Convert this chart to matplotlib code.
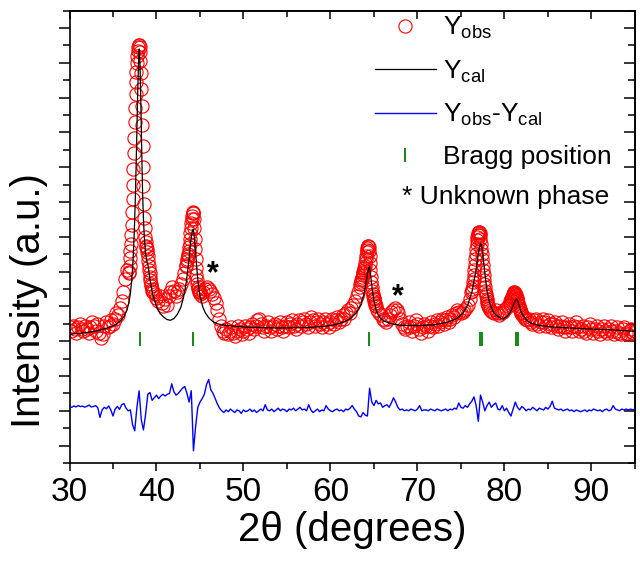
import numpy as np
import matplotlib
matplotlib.use("Agg")
import matplotlib.pyplot as plt
from matplotlib.ticker import MultipleLocator

plt.rcParams['font.family'] = ['Liberation Sans', 'DejaVu Sans']
plt.rcParams['mathtext.fontset'] = 'custom'
plt.rcParams['mathtext.rm'] = 'Liberation Sans'
plt.rcParams['mathtext.it'] = 'Liberation Sans:italic'

# observed pattern, pieces (start, end, values) - coarse on background, fine on peaks
obs_segments = [
    (30.0, 36.8, [6.8, 6.6, 6.9, 6.7, 6.5, 6.8, 7.0, 6.7, 6.6, 6.9,
                  6.7, 6.5, 6.8, 7.1, 6.9, 6.6, 7.0, 6.5, 6.2, 6.4,
                  6.9, 7.1, 6.8, 6.9, 7.2, 7.0, 7.3, 7.6, 7.5, 7.9,
                  8.3, 8.8, 9.6, 10.1, 9.9]),
    (36.85, 39.5, [10.0, 10.3, 10.8, 11.2, 11.6, 12.1, 12.7, 13.4, 14.2, 15.0,
                   15.9, 16.8, 17.7, 18.6, 19.4, 20.2, 20.9, 21.5, 22.0, 22.4,
                   22.7, 22.9, 23.0, 23.0, 22.9, 22.6, 22.1, 21.4, 20.5, 19.5,
                   18.4, 17.2, 16.0, 14.9, 13.9, 13.1, 12.5, 12.0, 11.7, 11.5,
                   11.4, 11.3, 11.1, 10.9, 10.6, 10.3, 10.1, 9.9, 9.7, 9.5,
                   9.3, 9.2, 9.0, 8.9]),
    (39.6, 43.4, [8.8, 8.7, 8.5, 8.3, 8.6, 8.2, 8.0, 8.4, 8.1, 8.6,
                  8.8, 9.1, 8.9, 8.6, 8.8, 9.0, 9.3, 9.6, 9.9, 10.3]),
    (43.45, 45.0, [10.4, 10.6, 10.7, 10.9, 11.0, 11.2, 11.4, 11.6, 11.9, 12.2,
                   12.5, 12.8, 13.0, 13.2, 13.35, 13.4, 13.35, 13.0, 12.5, 11.9,
                   11.3, 10.7, 10.2, 9.8, 9.5, 9.3, 9.1, 9.0, 8.9, 8.8,
                   8.8, 8.7]),
    (45.2, 63.4, [8.6, 8.8, 9.0, 9.1, 9.0, 8.9, 8.7, 8.5, 8.2, 7.8,
                  7.3, 6.9, 6.6, 6.5, 6.7, 6.4, 6.6, 6.8, 6.5, 6.3,
                  6.6, 6.9, 6.7, 6.4, 6.6, 6.9, 6.7, 6.5, 6.8, 7.0,
                  6.7, 6.9, 7.2, 7.3, 7.0, 6.8, 6.6, 6.9, 7.1, 6.8,
                  6.6, 6.9, 7.0, 6.7, 6.9, 7.1, 6.8, 6.6, 6.9, 7.1,
                  6.8, 7.0, 7.2, 6.9, 6.7, 7.0, 7.2, 6.9, 7.1, 7.3,
                  7.0, 6.8, 7.1, 7.4, 7.2, 6.9, 7.1, 7.3, 7.0, 6.8,
                  7.1, 7.3, 7.0, 6.8, 7.1, 7.3, 7.0, 7.2, 7.4, 7.1,
                  7.3, 7.5, 7.3, 7.6, 7.8, 7.6, 7.9, 8.1, 8.3, 8.6,
                  8.8, 9.1]),
    (63.45, 65.2, [9.3, 9.4, 9.5, 9.6, 9.7, 9.8, 9.9, 10.0, 10.1, 10.2,
                   10.3, 10.5, 10.7, 10.9, 11.1, 11.25, 11.35, 11.45, 11.45, 11.4,
                   11.2, 10.9, 10.5, 10.1, 9.7, 9.4, 9.1, 8.9, 8.7, 8.6,
                   8.5, 8.4, 8.3, 8.2, 8.1, 8.0]),
    (65.4, 76.2, [7.8, 7.6, 7.5, 7.3, 7.2, 7.1, 7.3, 7.5, 7.7, 7.8,
                  7.9, 7.8, 7.6, 7.3, 7.0, 6.8, 6.7, 6.9, 7.1, 6.8,
                  6.6, 6.9, 7.2, 7.0, 6.7, 6.5, 6.8, 7.0, 6.9, 6.6,
                  6.9, 7.1, 6.8, 7.0, 7.2, 6.9, 7.1, 7.3, 7.0, 7.2,
                  7.4, 7.1, 7.3, 7.5, 7.4, 7.6, 7.8, 7.7, 7.6, 7.7,
                  7.8, 7.9, 8.1, 8.4, 8.8]),
    (76.25, 78.2, [8.9, 9.0, 9.2, 9.4, 9.6, 9.8, 10.1, 10.4, 10.7, 11.0,
                   11.3, 11.6, 11.8, 12.0, 12.1, 12.2, 12.25, 12.25, 12.2, 12.1,
                   11.9, 11.6, 11.3, 11.0, 10.7, 10.4, 10.1, 9.8, 9.5, 9.3,
                   9.1, 8.9, 8.7, 8.6, 8.4, 8.3, 8.2, 8.1, 8.0, 7.9]),
    (78.4, 80.6, [7.8, 7.7, 7.6, 7.8, 7.6, 7.5, 7.6, 7.7, 7.8, 7.9, 8.0, 8.1]),
    (80.65, 82.0, [8.2, 8.3, 8.35, 8.4, 8.5, 8.55, 8.6, 8.7, 8.75, 8.8,
                   8.8, 8.75, 8.7, 8.65, 8.6, 8.5, 8.4, 8.3, 8.2, 8.1,
                   8.0, 7.9, 7.85, 7.8, 7.7, 7.65, 7.6, 7.5]),
    (82.2, 95.0, [7.4, 7.3, 7.2, 7.3, 7.1, 7.0, 7.2, 7.3, 7.0, 6.9,
                  7.1, 7.3, 7.1, 6.9, 7.2, 7.0, 6.8, 7.0, 7.1, 6.9,
                  6.7, 6.9, 7.1, 6.8, 6.6, 6.8, 7.0, 6.8, 6.6, 6.9,
                  7.1, 6.8, 6.6, 6.7, 6.9, 6.6, 6.5, 6.8, 7.0, 6.7,
                  6.5, 6.7, 6.9, 6.6, 6.4, 6.7, 6.9, 6.6, 6.5, 6.7,
                  6.9, 6.6, 6.4, 6.6, 6.8, 6.5, 6.4, 6.7, 6.8, 6.5,
                  6.4, 6.6, 6.7, 6.5, 6.6]),
]

x_cal = [30.0, 31.0, 32.0, 33.0, 34.0, 35.0, 35.5, 36.0, 36.3, 36.6,
         36.8, 37.0, 37.15, 37.3, 37.45, 37.55, 37.65, 37.75, 37.85, 37.95,
         38.02, 38.1, 38.2, 38.3, 38.4, 38.5, 38.6, 38.75, 38.9, 39.05,
         39.3, 39.6, 40.0, 40.4, 40.8, 41.2, 41.6, 42.0, 42.4, 42.8,
         43.1, 43.4, 43.6, 43.8, 43.95, 44.1, 44.23, 44.35, 44.5, 44.65,
         44.8, 45.0, 45.3, 45.6, 46.0, 46.5, 47.0, 48.0, 50.0, 52.0,
         54.0, 56.0, 58.0, 59.5, 60.5, 61.5, 62.3, 63.0, 63.5, 63.85,
         64.1, 64.3, 64.45, 64.6, 64.8, 65.0, 65.3, 65.7, 66.2, 67.0,
         68.0, 70.0, 72.0, 73.5, 74.5, 75.2, 75.8, 76.3, 76.7, 77.0,
         77.2, 77.3, 77.45, 77.6, 77.8, 78.0, 78.3, 78.7, 79.2, 79.8,
         80.3, 80.7, 81.0, 81.25, 81.4, 81.55, 81.75, 82.0, 82.5, 83.0,
         84.0, 86.0, 88.0, 90.0, 92.0, 95.0]
y_cal = [6.40, 6.45, 6.50, 6.58, 6.70, 6.88, 7.02, 7.25, 7.45, 7.80,
         8.15, 8.75, 9.50, 10.6, 12.3, 13.9, 15.9, 18.2, 20.5, 22.2,
         22.8, 22.0, 19.8, 17.0, 14.6, 13.0, 12.0, 11.0, 10.6, 10.3,
         9.4, 8.6, 8.0, 7.6, 7.4, 7.25, 7.2, 7.3, 7.55, 7.95,
         8.5, 9.3, 10.1, 11.0, 11.8, 12.3, 12.45, 12.0, 11.1, 10.1,
         9.3, 8.6, 8.0, 7.65, 7.35, 7.12, 7.0, 6.9, 6.82, 6.78,
         6.76, 6.77, 6.80, 6.86, 6.95, 7.10, 7.30, 7.65, 8.1, 8.7,
         9.4, 10.0, 10.3, 9.9, 9.0, 8.3, 7.7, 7.35, 7.15, 7.0,
         6.92, 6.90, 6.95, 7.10, 7.30, 7.60, 8.1, 8.9, 10.0, 11.0,
         11.55, 11.6, 11.3, 10.6, 9.7, 8.9, 8.2, 7.7, 7.43, 7.28,
         7.42, 7.7, 8.05, 8.35, 8.43, 8.3, 7.95, 7.6, 7.24, 7.05,
         6.90, 6.80, 6.75, 6.70, 6.66, 6.57]

# difference curve, 0.25 deg step from 30 to 95
y_diff = [2.25, 2.20, 2.28, 2.22,  2.30, 2.24, 2.27, 2.21,  2.26, 2.33, 2.22, 2.25,
          2.30, 2.18, 1.62, 2.05,  2.20, 2.12, 2.28, 2.05,  1.70, 2.10, 2.25, 2.08,
          2.35, 2.42, 2.15, 2.00,  2.05, 1.20, 0.85, 2.20,  3.15, 1.50, 0.90, 1.80,
          2.95, 3.05, 2.60, 2.75,  2.90, 2.70, 2.85, 2.95,  2.85, 2.95, 3.00, 3.55,
          3.10, 2.90, 3.00, 3.15,  3.30, 3.40, 3.00, 2.50,  3.15, -0.30, 1.10, 2.20,
          2.50, 2.70, 2.95, 3.50,  3.80, 3.20, 3.00, 2.70,  2.40, 2.15, 2.00, 1.90,
          2.05, 1.95, 2.10, 2.00,  1.90, 2.05, 2.00, 1.85,  2.05, 1.95, 2.00, 2.10,
          1.95, 2.05, 1.90, 2.00,  2.10, 2.00, 2.35, 2.05,  2.00, 2.10, 1.95, 2.05,
          2.15, 2.00, 2.10, 2.05,  1.95, 2.10, 2.05, 2.15,  2.00, 2.10, 2.20, 2.05,
          2.10, 2.00, 2.35, 2.05,  1.90, 2.00, 2.10, 1.95,  2.05, 2.00, 2.30, 2.10,
          2.00, 1.95, 2.05, 2.10,  2.00, 2.05, 1.95, 2.10,  2.05, 2.15, 2.30, 2.10,
          1.95, 1.70, 1.65, 1.90,  1.75, 1.70, 3.30, 2.50,  2.30, 2.60, 2.40, 2.45,
          2.20, 2.30, 2.35, 2.20,  2.45, 2.75, 2.50, 2.20,  2.05, 2.10, 2.00, 2.05,
          2.00, 2.10, 2.05, 2.00,  2.10, 2.30, 2.00, 2.05,  2.05, 2.00, 2.10, 2.05,
          2.00, 2.10, 2.05, 2.00,  2.05, 2.10, 2.00, 2.10,  2.05, 2.15, 2.10, 2.45,
          2.20, 2.15, 2.30, 2.20,  2.40, 2.55, 2.80, 2.30,  1.40, 2.90, 2.50, 2.00,
          2.30, 2.50, 2.20, 2.35,  2.45, 2.10, 2.05, 2.30,  2.00, 2.15, 1.90, 1.70,
          2.10, 2.50, 2.20, 2.05,  2.25, 2.15, 2.00, 2.10,  2.05, 2.20, 2.10, 2.00,
          2.15, 2.10, 2.05, 2.20,  2.10, 2.25, 2.55, 2.15,  2.10, 2.05, 2.10, 2.00,
          2.05, 2.10, 2.00, 2.05,  1.95, 2.05, 2.00, 1.95,  2.00, 2.05, 1.95, 2.05,
          2.00, 2.10, 2.05, 2.00,  2.05, 1.95, 2.05, 2.10,  2.00, 2.05, 2.30, 2.10,
          2.05, 2.00, 2.10, 2.05,  2.10, 2.05, 2.10, 2.05,  2.10]

bragg_pos = [38.08, 44.25, 64.45, 77.2, 77.45, 81.3, 81.55]
bragg_y = 6.1
star_pos = [(46.5, 9.85), (67.8, 8.55)]

x_obs = np.concatenate([np.linspace(a, b, len(v)) for a, b, v in obs_segments])
y_obs = np.concatenate([v for a, b, v in obs_segments])
x_diff = np.linspace(30, 95, len(y_diff))

fig = plt.figure(figsize=(6.4, 5.61), dpi=100)
ax = fig.add_axes([0.1086, 0.1747, 0.8834, 0.8063])

ax.plot(x_obs, y_obs, 'o', mfc='none', mec='#ff0000', ms=9.5, mew=0.8,
        label=r'Y$_{\mathrm{obs}}$', zorder=2)
ax.plot(x_cal, y_cal, color='black', lw=0.9, label=r'Y$_{\mathrm{cal}}$', zorder=3)
ax.plot(x_diff, y_diff, color='#0000ff', lw=1.0,
        label=r'Y$_{\mathrm{obs}}$-Y$_{\mathrm{cal}}$', zorder=3)
ax.plot(bragg_pos, [bragg_y] * len(bragg_pos), '|', color='#008000', ms=10, mew=1.3,
        label='Bragg position', zorder=3)

for sx, sy in star_pos:
    ax.text(sx, sy, '*', fontsize=22, fontweight='bold', ha='center', va='center')

ax.set_xlim(30, 95)
ax.set_ylim(-1, 25)
ax.xaxis.set_major_locator(MultipleLocator(10))
ax.xaxis.set_minor_locator(MultipleLocator(5))
ax.yaxis.set_major_locator(MultipleLocator(2))
ax.yaxis.set_minor_locator(MultipleLocator(1))
ax.set_yticklabels([])
ax.tick_params(axis='x', which='both', direction='out', labelsize=24, width=1.1, pad=4)
ax.tick_params(axis='x', which='major', length=6)
ax.tick_params(axis='x', which='minor', length=4)
ax.tick_params(axis='y', which='both', direction='out', width=1.1)
ax.tick_params(axis='y', which='major', length=8)
ax.tick_params(axis='y', which='minor', length=5)
for s in ax.spines.values():
    s.set_linewidth(1.2)

top = ax.secondary_xaxis('top')
top.xaxis.set_major_locator(MultipleLocator(10))
top.xaxis.set_minor_locator(MultipleLocator(5))
top.tick_params(which='both', direction='in', labeltop=False, width=1.1)
top.tick_params(which='major', length=6)
top.tick_params(which='minor', length=4)
right = ax.secondary_yaxis('right')
right.yaxis.set_major_locator(MultipleLocator(2))
right.yaxis.set_minor_locator(MultipleLocator(1))
right.tick_params(which='both', direction='in', labelright=False, width=1.1)
right.tick_params(which='major', length=8)
right.tick_params(which='minor', length=5)
top.spines['top'].set_linewidth(1.2)
right.spines['right'].set_linewidth(1.2)

ax.set_xlabel('2θ (degrees)', fontsize=29, labelpad=2)
ax.set_ylabel('Intensity (a.u.)', fontsize=29)
ax.yaxis.set_label_coords(-0.038, 0.36)

handles, labels = ax.get_legend_handles_labels()
ax.legend(handles, labels, loc='upper left', bbox_to_anchor=(0.54, 0.99),
          frameon=False, fontsize=19, handlelength=2.3, handletextpad=0.3,
          borderpad=0, borderaxespad=0, labelspacing=0.65)
ax.text(68.2, 14.3, '* Unknown phase', fontsize=19, va='center', ha='left')

fig.savefig('out.png', dpi=100)
